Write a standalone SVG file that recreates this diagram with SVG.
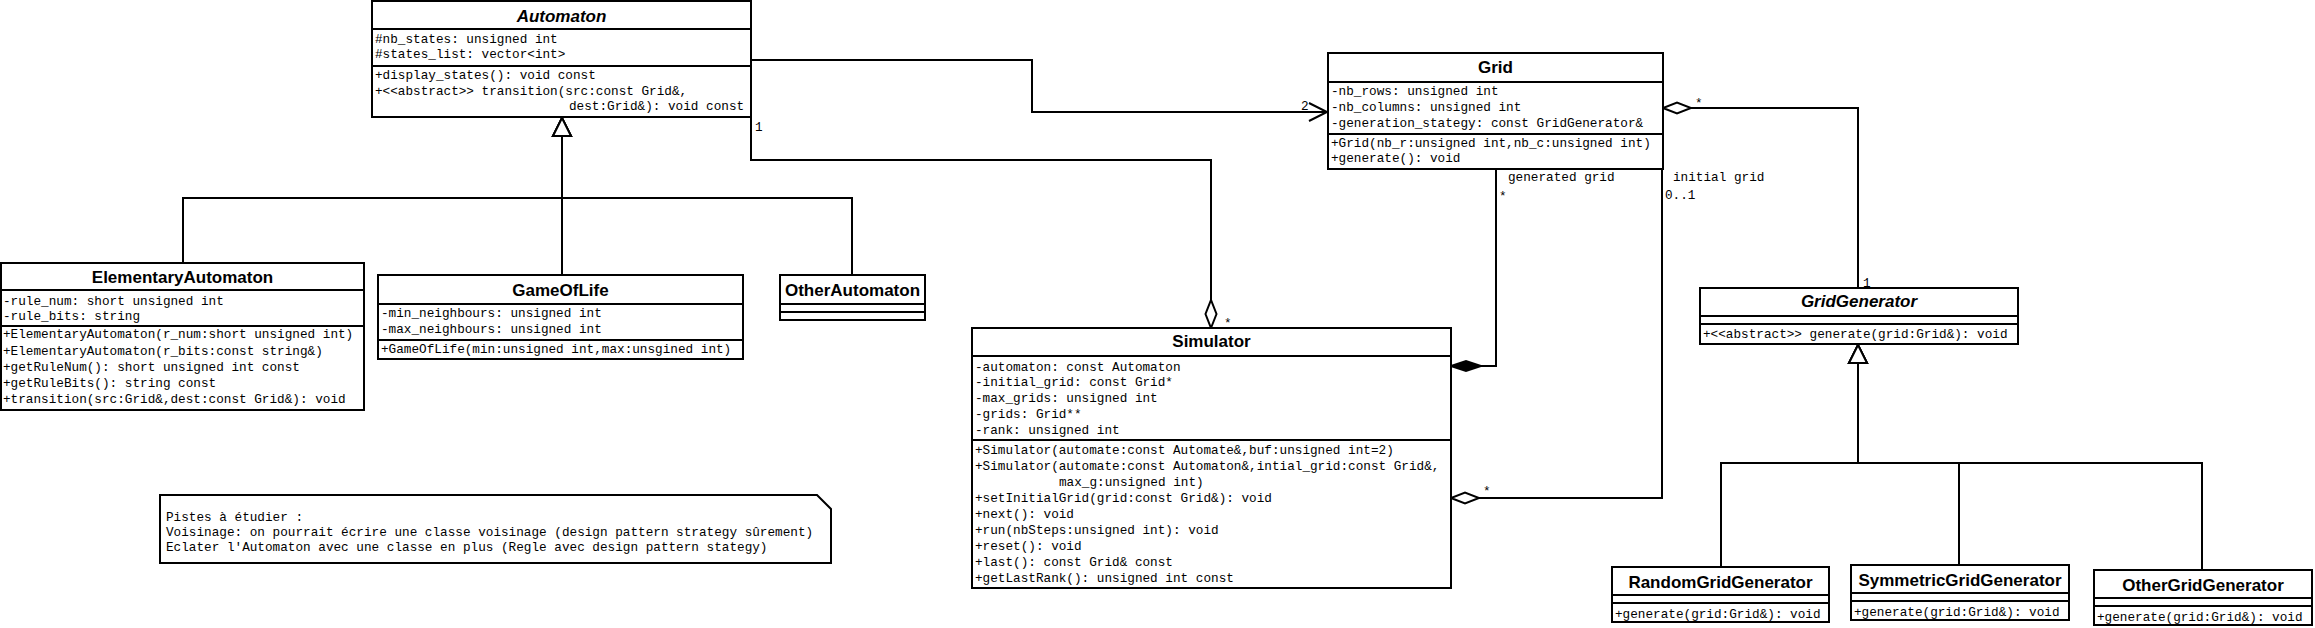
<svg xmlns="http://www.w3.org/2000/svg" width="2315" height="628" viewBox="0 0 2315 628">
<style>
.box{fill:#fff;stroke:#000;stroke-width:2}
.sep{stroke:#000;stroke-width:2}
.title{font-family:"Liberation Sans",Arial,sans-serif;font-weight:bold;font-size:17px;text-anchor:middle;fill:#000}
.abs{font-style:italic}
.t{font-family:"Liberation Mono","Courier New",monospace;font-size:12.7px;fill:#000}
.line{fill:none;stroke:#000;stroke-width:2}
.agg{marker-start:url(#hdia)}
.comp{marker-start:url(#fdia)}
.gen{marker-end:url(#tri)}
.nav{marker-end:url(#open)}
</style>
<defs>
<marker id="hdia" markerUnits="userSpaceOnUse" orient="auto-start-reverse" refX="0" refY="0" markerWidth="30" markerHeight="12" overflow="visible">
<path d="M0,0 L-14,-5.5 L-28,0 L-14,5.5 Z" fill="#fff" stroke="#000" stroke-width="2"/>
</marker>
<marker id="fdia" markerUnits="userSpaceOnUse" orient="auto-start-reverse" refX="0" refY="0" markerWidth="30" markerHeight="12" overflow="visible">
<path d="M0,0 L-15,-5 L-30,0 L-15,5 Z" fill="#000" stroke="#000" stroke-width="2"/>
</marker>
<marker id="tri" markerUnits="userSpaceOnUse" orient="auto" refX="0" refY="0" markerWidth="20" markerHeight="20" overflow="visible">
<path d="M0,0 L-18,-9 L-18,9 Z" fill="#fff" stroke="#000" stroke-width="2"/>
</marker>
<marker id="open" markerUnits="userSpaceOnUse" orient="auto" refX="0" refY="0" markerWidth="20" markerHeight="20" overflow="visible">
<path d="M-18,-9 L0,0 L-18,9" fill="none" stroke="#000" stroke-width="2"/>
</marker>
</defs>
<rect width="2315" height="628" fill="#fff"/>

<g id="connectors">
<path class="line gen" d="M183,263 V198 H562 V118"/>
<path class="line gen" d="M562,275 V118"/>
<path class="line gen" d="M852,275 V198 H562 V118"/>
<path class="line gen" d="M1721,567 V463 H1858 V345"/>
<path class="line gen" d="M1959,565 V463 H1858 V345"/>
<path class="line gen" d="M2202,570 V463 H1858 V345"/>
<path class="line nav" d="M751,60 H1032 V112 H1327"/>
<path class="line agg" d="M1211,328 V160 H751 V117"/>
<path class="line comp" d="M1451,366 H1496 V170"/>
<path class="line agg" d="M1451,498 H1662 V170"/>
<path class="line agg" d="M1663,108 H1858 V288"/>
<text class="t" x="1301" y="110">2</text>
<text class="t" x="755" y="131">1</text>
<text class="t" x="1224" y="327">*</text>
<text class="t" x="1508" y="181">generated grid</text>
<text class="t" x="1499" y="200">*</text>
<text class="t" x="1673" y="181">initial grid</text>
<text class="t" x="1665" y="199">0..1</text>
<text class="t" x="1483" y="495">*</text>
<text class="t" x="1695" y="107">*</text>
<text class="t" x="1863" y="287">1</text>
</g>

<g id="Automaton">
<rect class="box" x="372" y="1" width="379" height="116"/>
<line class="sep" x1="372" y1="29" x2="751" y2="29"/>
<line class="sep" x1="372" y1="66" x2="751" y2="66"/>
<text class="title abs" x="561.5" y="22">Automaton</text>
<text class="t" x="375" y="43">#nb_states: unsigned int</text>
<text class="t" x="375" y="58">#states_list: vector&lt;int&gt;</text>
<text class="t" x="375" y="79">+display_states(): void const</text>
<text class="t" x="375" y="95">+&lt;&lt;abstract&gt;&gt; transition(src:const Grid&amp;,</text>
<text class="t" x="569" y="110">dest:Grid&amp;): void const</text>
</g>

<g id="ElementaryAutomaton">
<rect class="box" x="1" y="263" width="363" height="147"/>
<line class="sep" x1="1" y1="290" x2="364" y2="290"/>
<line class="sep" x1="1" y1="326" x2="364" y2="326"/>
<text class="title" x="182.5" y="283">ElementaryAutomaton</text>
<text class="t" x="3" y="305">-rule_num: short unsigned int</text>
<text class="t" x="3" y="320">-rule_bits: string</text>
<text class="t" x="3" y="338">+ElementaryAutomaton(r_num:short unsigned int)</text>
<text class="t" x="3" y="355">+ElementaryAutomaton(r_bits:const string&amp;)</text>
<text class="t" x="3" y="371">+getRuleNum(): short unsigned int const</text>
<text class="t" x="3" y="387">+getRuleBits(): string const</text>
<text class="t" x="3" y="403">+transition(src:Grid&amp;,dest:const Grid&amp;): void</text>
</g>

<g id="GameOfLife">
<rect class="box" x="378" y="275" width="365" height="84"/>
<line class="sep" x1="378" y1="304" x2="743" y2="304"/>
<line class="sep" x1="378" y1="340" x2="743" y2="340"/>
<text class="title" x="560.5" y="296">GameOfLife</text>
<text class="t" x="381" y="317">-min_neighbours: unsigned int</text>
<text class="t" x="381" y="333">-max_neighbours: unsigned int</text>
<text class="t" x="381" y="353">+GameOfLife(min:unsigned int,max:unsgined int)</text>
</g>

<g id="OtherAutomaton">
<rect class="box" x="780" y="275" width="145" height="45"/>
<line class="sep" x1="780" y1="304" x2="925" y2="304"/>
<line class="sep" x1="780" y1="312" x2="925" y2="312"/>
<text class="title" x="852.5" y="296">OtherAutomaton</text>
</g>

<g id="Simulator">
<rect class="box" x="972" y="328" width="479" height="260"/>
<line class="sep" x1="972" y1="356" x2="1451" y2="356"/>
<line class="sep" x1="972" y1="440" x2="1451" y2="440"/>
<text class="title" x="1211.5" y="347">Simulator</text>
<text class="t" x="975" y="371">-automaton: const Automaton</text>
<text class="t" x="975" y="386">-initial_grid: const Grid*</text>
<text class="t" x="975" y="402">-max_grids: unsigned int</text>
<text class="t" x="975" y="418">-grids: Grid**</text>
<text class="t" x="975" y="434">-rank: unsigned int</text>
<text class="t" x="975" y="454">+Simulator(automate:const Automate&amp;,buf:unsigned int=2)</text>
<text class="t" x="975" y="470">+Simulator(automate:const Automaton&amp;,intial_grid:const Grid&amp;,</text>
<text class="t" x="1059" y="486">max_g:unsigned int)</text>
<text class="t" x="975" y="502">+setInitialGrid(grid:const Grid&amp;): void</text>
<text class="t" x="975" y="518">+next(): void</text>
<text class="t" x="975" y="534">+run(nbSteps:unsigned int): void</text>
<text class="t" x="975" y="550">+reset(): void</text>
<text class="t" x="975" y="566">+last(): const Grid&amp; const</text>
<text class="t" x="975" y="582">+getLastRank(): unsigned int const</text>
</g>

<g id="Grid">
<rect class="box" x="1328" y="53" width="335" height="116"/>
<line class="sep" x1="1328" y1="82" x2="1663" y2="82"/>
<line class="sep" x1="1328" y1="134" x2="1663" y2="134"/>
<text class="title" x="1495.5" y="73">Grid</text>
<text class="t" x="1331" y="95">-nb_rows: unsigned int</text>
<text class="t" x="1331" y="111">-nb_columns: unsigned int</text>
<text class="t" x="1331" y="127">-generation_stategy: const GridGenerator&amp;</text>
<text class="t" x="1331" y="147">+Grid(nb_r:unsigned int,nb_c:unsigned int)</text>
<text class="t" x="1331" y="162">+generate(): void</text>
</g>

<g id="GridGenerator">
<rect class="box" x="1700" y="288" width="318" height="56"/>
<line class="sep" x1="1700" y1="316" x2="2018" y2="316"/>
<line class="sep" x1="1700" y1="324" x2="2018" y2="324"/>
<text class="title abs" x="1859" y="307">GridGenerator</text>
<text class="t" x="1703" y="338">+&lt;&lt;abstract&gt;&gt; generate(grid:Grid&amp;): void</text>
</g>

<g id="RandomGridGenerator">
<rect class="box" x="1612" y="567" width="217" height="55"/>
<line class="sep" x1="1612" y1="595" x2="1829" y2="595"/>
<line class="sep" x1="1612" y1="603" x2="1829" y2="603"/>
<text class="title" x="1720.5" y="588">RandomGridGenerator</text>
<text class="t" x="1615" y="618">+generate(grid:Grid&amp;): void</text>
</g>

<g id="SymmetricGridGenerator">
<rect class="box" x="1851" y="565" width="218" height="55"/>
<line class="sep" x1="1851" y1="593" x2="2069" y2="593"/>
<line class="sep" x1="1851" y1="601" x2="2069" y2="601"/>
<text class="title" x="1960" y="586">SymmetricGridGenerator</text>
<text class="t" x="1854" y="616">+generate(grid:Grid&amp;): void</text>
</g>

<g id="OtherGridGenerator">
<rect class="box" x="2094" y="570" width="218" height="55"/>
<line class="sep" x1="2094" y1="598" x2="2312" y2="598"/>
<line class="sep" x1="2094" y1="606" x2="2312" y2="606"/>
<text class="title" x="2203" y="591">OtherGridGenerator</text>
<text class="t" x="2097" y="621">+generate(grid:Grid&amp;): void</text>
</g>

<g id="Note">
<path class="box" d="M160,495 H817 L831,509 V563 H160 Z"/>
<text class="t" x="166" y="521">Pistes à étudier :</text>
<text class="t" x="166" y="536">Voisinage: on pourrait écrire une classe voisinage (design pattern strategy sûrement)</text>
<text class="t" x="166" y="551">Eclater l'Automaton avec une classe en plus (Regle avec design pattern stategy)</text>
</g>
</svg>
